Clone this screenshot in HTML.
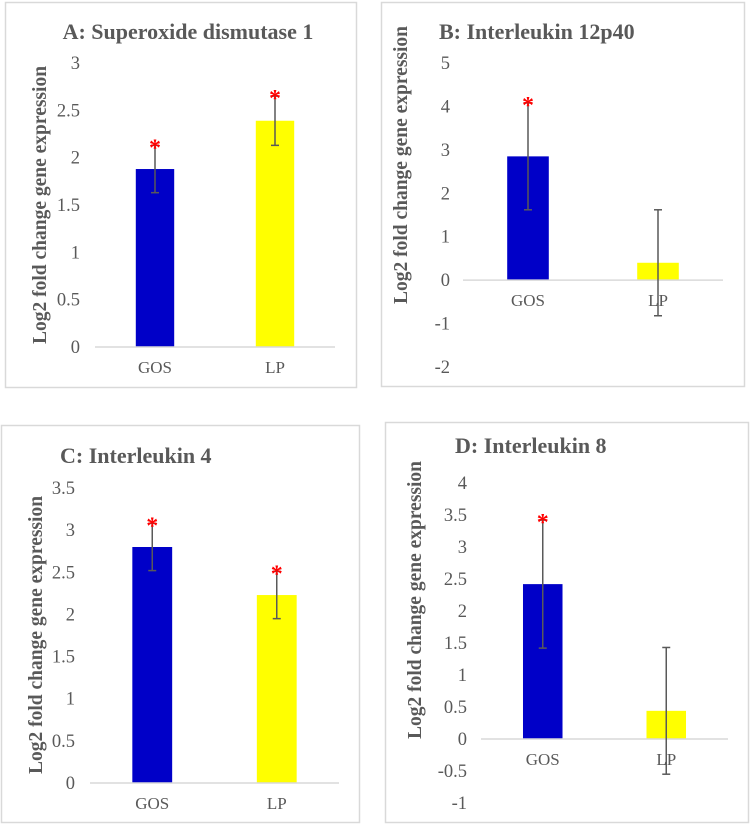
<!DOCTYPE html>
<html><head><meta charset="utf-8"><style>
body{margin:0;background:#fff;}
svg text{font-family:"Liberation Serif",serif;fill:#595959;}
</style></head><body>
<svg id="fig" width="750" height="824" viewBox="0 0 750 824"></svg>
<script>
const categories = ["GOS", "LP"];
const titles = ["A: Superoxide dismutase 1", "B: Interleukin 12p40", "C: Interleukin 4", "D: Interleukin 8"];
const valuesA = [1.88, 2.39];
const errorsA = [0.25, 0.26];
const sigA = [true, true];
const ticksA = ["0","0.5","1","1.5","2","2.5","3"];
const valuesB = [2.85, 0.40];
const errorsB = [1.23, 1.22];
const sigB = [true, false];
const ticksB = ["-2","-1","0","1","2","3","4","5"];
const valuesC = [2.80, 2.23];
const errorsC = [0.28, 0.28];
const sigC = [true, true];
const ticksC = ["0","0.5","1","1.5","2","2.5","3","3.5"];
const valuesD = [2.42, 0.44];
const errorsD = [1.00, 0.99];
const sigD = [true, false];
const ticksD = ["-1","-0.5","0","0.5","1","1.5","2","2.5","3","3.5","4"];

const NS = "http://www.w3.org/2000/svg";
const svg = document.getElementById("fig");
function mk(tag, attrs, parent, text){
  const e = document.createElementNS(NS, tag);
  for (const k in attrs) e.setAttribute(k, attrs[k]);
  if (text !== undefined) e.textContent = text;
  (parent || svg).appendChild(e);
  return e;
}
const colors = ["#0000C8", "#FFFF00"];
const layouts = [
  {box:[5,2,351,385], yTop:63, yBot:347, x0:95, x1:335, tickX:80, title:[188,39,"middle"], yt:[46,205], id:"a"},
  {box:[381,2,363,384], yTop:63, yBot:367, x0:463, x1:723, tickX:450, title:[439,39,"start"], yt:[407,165], id:"b"},
  {box:[1,425,358,397], yTop:488, yBot:783, x0:90, x1:339, tickX:75, title:[60,463,"start"], yt:[42,635], id:"c"},
  {box:[385,422,363,400], yTop:483, yBot:803, x0:481, x1:728, tickX:467, title:[455,453,"start"], yt:[421,600], id:"d"}
];
const datasets = [
  [valuesA, errorsA, sigA, ticksA],
  [valuesB, errorsB, sigB, ticksB],
  [valuesC, errorsC, sigC, ticksC],
  [valuesD, errorsD, sigD, ticksD]
];
layouts.forEach((L, i) => {
  const [vals, errs, sig, ticks] = datasets[i];
  const g = mk("g", {});
  
  
  const r = mk("rect", {x:L.box[0]+0.5, y:L.box[1]+0.5, width:L.box[2], height:L.box[3], fill:"#fff", stroke:"#d9d9d9", "stroke-width":1.5}, g);
  
  
  const tmin = parseFloat(ticks[0]), tmax = parseFloat(ticks[ticks.length-1]);
  const y = v => L.yBot - (v - tmin) / (tmax - tmin) * (L.yBot - L.yTop);
  const band = (L.x1 - L.x0) / categories.length;
  const bw = band * 0.32;
  const xc = j => L.x0 + band * (j + 0.5);
  const t = mk("text", {x:L.title[0], y:L.title[1], "text-anchor":L.title[2], "font-size":22, "font-weight":"bold"}, g, titles[i]);
  
  
  ticks.forEach(tk => {
    const tl = mk("text", {x:L.tickX, y:y(parseFloat(tk))+6, "text-anchor":"end", "font-size":18.5}, g, tk);
    
    
  });
  const yt = mk("text", {x:L.yt[0], y:L.yt[1], "text-anchor":"middle", "font-size":19.5, "font-weight":"bold", transform:`rotate(-90 ${L.yt[0]} ${L.yt[1]})`}, g, "Log2 fold change gene expression");
  
  
  vals.forEach((v, j) => {
    const top = Math.min(y(v), y(0)), h = Math.abs(y(v) - y(0));
    const b = mk("rect", {x:xc(j)-bw/2, y:top, width:bw, height:h, fill:colors[j]}, g);
    
    
  });
  const ax = mk("line", {x1:L.x0, x2:L.x1, y1:y(0), y2:y(0), stroke:"#d9d9d9", "stroke-width":1.5}, g);
  
  
  vals.forEach((v, j) => {
    const lo = y(v - errs[j]), hi = y(v + errs[j]), cx = xc(j);
    const eg = mk("g", {stroke:"#595959", "stroke-width":1.5}, g);
    
    
    mk("line", {x1:cx, x2:cx, y1:lo, y2:hi}, eg);
    mk("line", {x1:cx-4, x2:cx+4, y1:lo, y2:lo}, eg);
    mk("line", {x1:cx-4, x2:cx+4, y1:hi, y2:hi}, eg);
    if (sig[j]) {
      const s = mk("text", {x:cx, y:hi+10, "text-anchor":"middle", "font-size":24, "font-weight":"bold", style:"fill:#ff0000"}, g, "*");
      
      
    }
    const xl = mk("text", {x:cx, y:y(0)+26, "text-anchor":"middle", "font-size":17}, g, categories[j]);
    
    
  });
});
</script>
</body></html>
